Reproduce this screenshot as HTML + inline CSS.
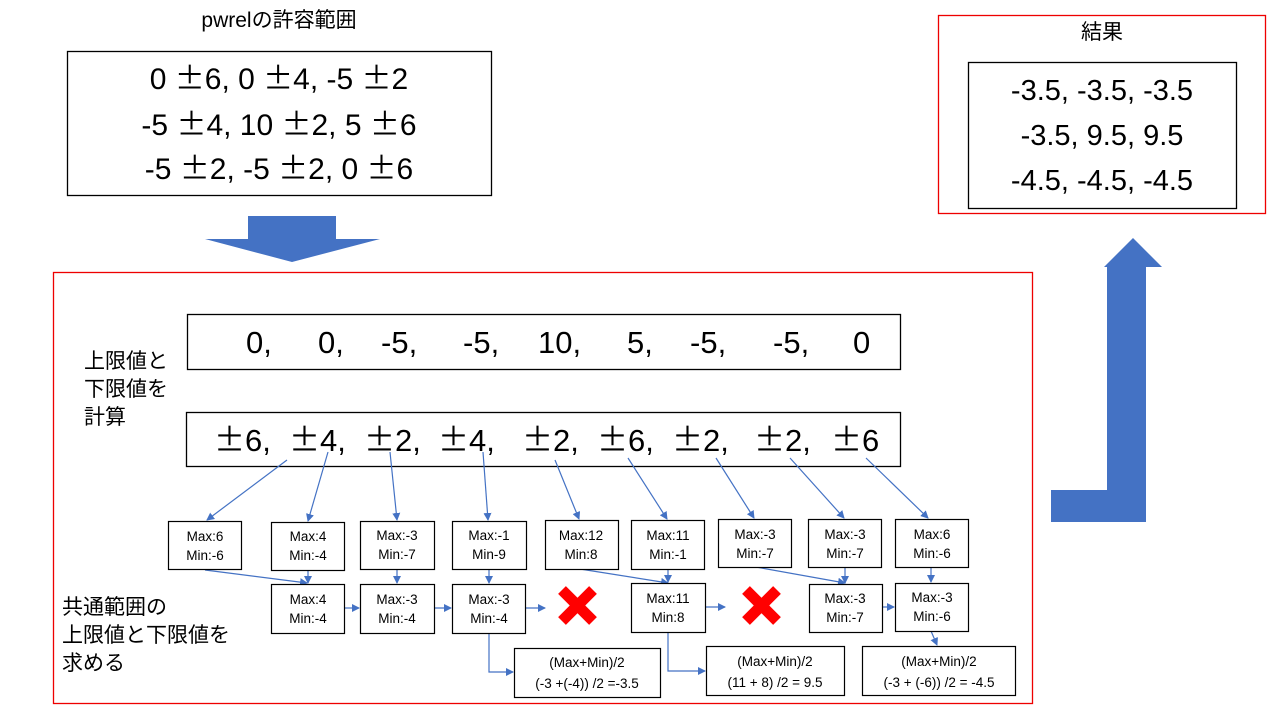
<!DOCTYPE html>
<html><head><meta charset="utf-8"><style>
html,body{margin:0;padding:0;background:#fff;}
svg{display:block;}
text{font-family:"Liberation Sans","Noto Sans CJK JP",sans-serif;fill:#000;}
.pm{font-family:"Noto Sans CJK JP",sans-serif;}
</style></head><body>
<svg width="1280" height="720" viewBox="0 0 1280 720" xmlns="http://www.w3.org/2000/svg">
<defs>
<marker id="a" markerWidth="8" markerHeight="8" refX="7" refY="4" orient="auto" markerUnits="userSpaceOnUse">
<path d="M0,0 L8,4 L0,8 z" fill="#4472C4"/></marker>
</defs>
<text x="279" y="27" font-size="21" text-anchor="middle" fill="#333">pwrelの許容範囲</text>
<rect x="67.5" y="51.5" width="424" height="144" fill="#fff" stroke="#000" stroke-width="1.3"/>
<g font-size="30" text-anchor="middle">
<text x="279" y="89">0 <tspan class="pm">±</tspan>6, 0 <tspan class="pm">±</tspan>4, -5 <tspan class="pm">±</tspan>2</text>
<text x="279" y="135">-5 <tspan class="pm">±</tspan>4, 10 <tspan class="pm">±</tspan>2, 5 <tspan class="pm">±</tspan>6</text>
<text x="279" y="179">-5 <tspan class="pm">±</tspan>2, -5 <tspan class="pm">±</tspan>2, 0 <tspan class="pm">±</tspan>6</text>
</g>
<polygon points="248,216 336,216 336,239 380,239 292,262 205,239 248,239" fill="#4472C4"/>
<rect x="938.5" y="15.5" width="327" height="198" fill="none" stroke="#e00" stroke-width="1.3"/>
<text x="1102" y="39" font-size="21" text-anchor="middle" fill="#333">結果</text>
<rect x="968.5" y="62.5" width="268" height="146" fill="#fff" stroke="#000" stroke-width="1.3"/>
<g font-size="29" text-anchor="middle">
<text x="1102" y="100">-3.5, -3.5, -3.5</text>
<text x="1102" y="145">-3.5, 9.5, 9.5</text>
<text x="1102" y="190">-4.5, -4.5, -4.5</text>
</g>
<polygon points="1107,267 1104,267 1133,238 1162,267 1146,267 1146,522 1051,522 1051,490 1107,490" fill="#4472C4"/>
<rect x="53.5" y="272.5" width="979" height="431" fill="none" stroke="#e00" stroke-width="1.3"/>
<g font-size="21" fill="#333">
<text x="84" y="368">上限値と</text>
<text x="84" y="396">下限値を</text>
<text x="84" y="424">計算</text>
<text x="62" y="614">共通範囲の</text>
<text x="62" y="642">上限値と下限値を</text>
<text x="62" y="670">求める</text>
</g>
<rect x="187.5" y="314.5" width="713" height="55" fill="#fff" stroke="#000" stroke-width="1.3"/>
<rect x="186.5" y="412.5" width="714" height="54" fill="#fff" stroke="#000" stroke-width="1.3"/>
<g font-size="31">
<text x="246" y="353">0,</text><text x="318" y="353">0,</text><text x="381" y="353">-5,</text>
<text x="463" y="353">-5,</text><text x="538" y="353">10,</text><text x="627" y="353">5,</text>
<text x="690" y="353">-5,</text><text x="773" y="353">-5,</text><text x="853" y="353">0</text>
</g>
<g font-size="31">
<text x="214" y="451"><tspan class="pm">±</tspan>6,</text><text x="289" y="451"><tspan class="pm">±</tspan>4,</text><text x="364" y="451"><tspan class="pm">±</tspan>2,</text>
<text x="438" y="451"><tspan class="pm">±</tspan>4,</text><text x="522" y="451"><tspan class="pm">±</tspan>2,</text><text x="597" y="451"><tspan class="pm">±</tspan>6,</text>
<text x="672" y="451"><tspan class="pm">±</tspan>2,</text><text x="754" y="451"><tspan class="pm">±</tspan>2,</text><text x="831" y="451"><tspan class="pm">±</tspan>6</text>
</g>
<g stroke="#4472C4" stroke-width="1.2" fill="none" marker-end="url(#a)">
<line x1="287" y1="460" x2="207" y2="520"/>
<line x1="328" y1="452" x2="308" y2="521"/>
<line x1="390" y1="452" x2="397" y2="520"/>
<line x1="483" y1="452" x2="488" y2="520"/>
<line x1="555" y1="460" x2="579" y2="519"/>
<line x1="628" y1="458" x2="667" y2="519"/>
<line x1="716" y1="458" x2="754" y2="518"/>
<line x1="790" y1="458" x2="844" y2="518"/>
<line x1="866" y1="458" x2="928" y2="518"/>
<line x1="205" y1="570" x2="307" y2="583"/>
<line x1="308" y1="570" x2="308" y2="583"/>
<line x1="397" y1="569" x2="397" y2="583"/>
<line x1="489" y1="569" x2="489" y2="583"/>
<line x1="580" y1="569" x2="668" y2="583"/>
<line x1="668" y1="569" x2="668" y2="582"/>
<line x1="756" y1="567" x2="845" y2="583"/>
<line x1="845" y1="567" x2="845" y2="583"/>
<line x1="931" y1="567" x2="931" y2="582"/>
<line x1="344" y1="608" x2="359" y2="608"/>
<line x1="434" y1="608" x2="451" y2="608"/>
<line x1="525" y1="608" x2="545" y2="608"/>
<line x1="705" y1="607" x2="725" y2="607"/>
<line x1="882" y1="607" x2="894" y2="607"/>
<polyline points="489,633 489,672 513,672"/>
<polyline points="668,632 668,671 705,671"/>
<line x1="931" y1="631" x2="937" y2="645"/>
</g>
<g fill="#fff" stroke="#000" stroke-width="1.2">
<rect x="168.5" y="521.5" width="73" height="48"/>
<rect x="271.5" y="522.5" width="73" height="48"/>
<rect x="360.5" y="521.5" width="74" height="48"/>
<rect x="452.5" y="521.5" width="74" height="48"/>
<rect x="545.5" y="520.5" width="73" height="49"/>
<rect x="631.5" y="520.5" width="73" height="49"/>
<rect x="718.5" y="519.5" width="73" height="48"/>
<rect x="808.5" y="519.5" width="73" height="48"/>
<rect x="895.5" y="519.5" width="73" height="48"/>
<rect x="271.5" y="584.5" width="73" height="49"/>
<rect x="360.5" y="584.5" width="74" height="49"/>
<rect x="452.5" y="584.5" width="73" height="49"/>
<rect x="631.5" y="583.5" width="74" height="49"/>
<rect x="809.5" y="584.5" width="73" height="48"/>
<rect x="895.5" y="583.5" width="73" height="48"/>
<rect x="514.5" y="648.5" width="146" height="49"/>
<rect x="706.5" y="646.5" width="138" height="49"/>
<rect x="862.5" y="646.5" width="153" height="49"/>
</g>
<g font-size="13.5" text-anchor="middle">
<text x="205" y="541">Max:6</text><text x="205" y="560">Min:-6</text>
<text x="308" y="541">Max:4</text><text x="308" y="560">Min:-4</text>
<text x="397" y="540">Max:-3</text><text x="397" y="559">Min:-7</text>
<text x="489" y="540">Max:-1</text><text x="489" y="559">Min-9</text>
<text x="581" y="540">Max:12</text><text x="581" y="559">Min:8</text>
<text x="668" y="540">Max:11</text><text x="668" y="559">Min:-1</text>
<text x="755" y="539">Max:-3</text><text x="755" y="558">Min:-7</text>
<text x="845" y="539">Max:-3</text><text x="845" y="558">Min:-7</text>
<text x="932" y="539">Max:6</text><text x="932" y="558">Min:-6</text>
<text x="308" y="604">Max:4</text><text x="308" y="623">Min:-4</text>
<text x="397" y="604">Max:-3</text><text x="397" y="623">Min:-4</text>
<text x="489" y="604">Max:-3</text><text x="489" y="623">Min:-4</text>
<text x="668" y="603">Max:11</text><text x="668" y="622">Min:8</text>
<text x="845" y="603">Max:-3</text><text x="845" y="622">Min:-7</text>
<text x="932" y="602">Max:-3</text><text x="932" y="621">Min:-6</text>
<text x="587" y="667">(Max+Min)/2</text><text x="587" y="688">(-3 +(-4)) /2 =-3.5</text>
<text x="775" y="666">(Max+Min)/2</text><text x="775" y="687">(11 + 8) /2 = 9.5</text>
<text x="939" y="666">(Max+Min)/2</text><text x="939" y="687">(-3 + (-6)) /2 = -4.5</text>
</g>
<g stroke="#f00" stroke-width="11">
<line x1="562" y1="590" x2="593" y2="621"/><line x1="593" y1="590" x2="562" y2="621"/>
<line x1="746" y1="590" x2="777" y2="621"/><line x1="777" y1="590" x2="746" y2="621"/>
</g>
</svg>
</body></html>
